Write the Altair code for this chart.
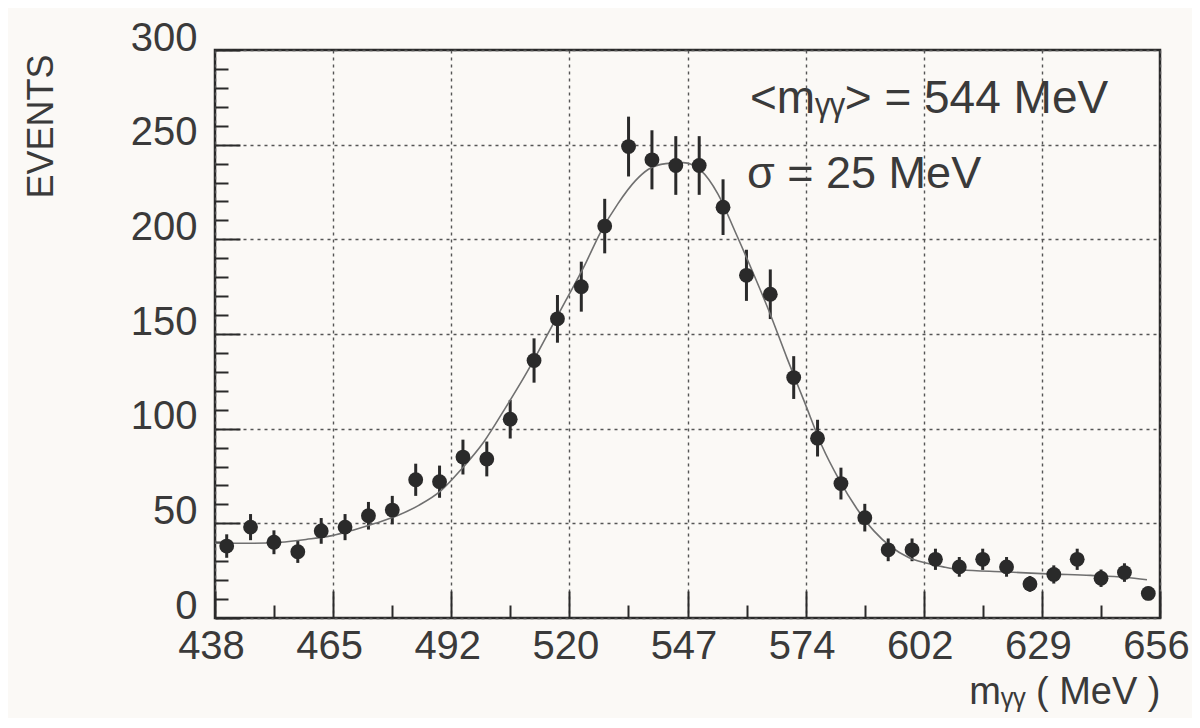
import altair as alt
import pandas as pd

# ---- data ----
bin_centers = [440.7, 446.2, 451.6, 457.1, 462.5, 468.0, 473.4, 478.9, 484.3, 489.8,
               495.2, 500.7, 506.1, 511.6, 517.0, 522.5, 527.9, 533.4, 538.8, 544.3,
               549.7, 555.2, 560.6, 566.1, 571.5, 577.0, 582.4, 587.9, 593.3, 598.8,
               604.2, 609.7, 615.1, 620.6, 626.0, 631.5, 636.9, 642.4, 647.8, 653.3]
events = [38, 48, 40, 35, 46, 48, 54, 57, 73, 72,
          85, 84, 105, 136, 158, 175, 207, 249, 242, 239,
          239, 217, 181, 171, 127, 95, 71, 53, 36, 36,
          31, 27, 31, 27, 18, 23, 31, 21, 24, 13]
errors = [6.2, 6.9, 6.3, 5.9, 6.8, 6.9, 7.3, 7.5, 8.5, 8.5,
          9.2, 9.2, 10.2, 11.7, 12.6, 13.2, 14.4, 15.8, 15.6, 15.5,
          15.5, 14.7, 13.5, 13.1, 11.3, 9.7, 8.4, 7.3, 6.0, 6.0,
          5.6, 5.2, 5.6, 5.2, 4.2, 4.8, 5.6, 4.6, 4.9, 3.6]

fit_mass = [438, 441, 447, 453, 459, 465, 470, 475, 480, 485, 490, 495, 500, 505, 510,
            515, 519, 523, 527, 531, 535, 538, 542, 546, 550, 554, 558, 562, 566, 570,
            574, 578, 582, 586, 590, 594, 598, 602, 606, 610, 620, 630, 640, 648, 653]
fit_events = [39.5, 39.5, 39.5, 40, 41.5, 43.5, 46.5, 50, 54, 59.5, 67, 79, 93, 111, 130,
              151, 168, 185, 204, 219, 231, 237, 240, 240.5, 236.5, 224, 204, 183, 161, 137,
              114, 91, 73, 58, 46, 37.5, 32, 29, 27, 25.5, 24.4, 23.3, 22.5, 21.5, 20.2]

x_tick_values = [438, 465.25, 492.5, 519.75, 547, 574.25, 601.5, 628.75, 656]
x_tick_labels = ["438", "465", "492", "520", "547", "574", "602", "629", "656"]
x_minor_ticks = [451.625, 478.875, 506.125, 533.375, 560.625, 587.875, 615.125, 642.375]
y_major_ticks = [0, 50, 100, 150, 200, 250, 300]
y_minor_ticks = [10, 20, 30, 40, 60, 70, 80, 90, 110, 120, 130, 140, 160, 170, 180, 190,
                 210, 220, 230, 240, 260, 270, 280, 290]

annot_1 = "<m\u1d67\u1d67> = 544 MeV"
annot_2 = "\u03c3 = 25 MeV"
x_title = "m\u1d67\u1d67 ( MeV )"
y_title = "EVENTS"

# ---- layout ----
W, H = 945, 568
FONT = "Liberation Sans"
INK = "#2a2a2a"
TXT = "#3a3a3a"

pts = pd.DataFrame({
    "mass": bin_centers,
    "events": events,
    "lo": [e - s for e, s in zip(events, errors)],
    "hi": [e + s for e, s in zip(events, errors)],
})
fit = pd.DataFrame({"mass": fit_mass, "events": fit_events})

xs = alt.Scale(domain=[438, 656], nice=False, zero=False)
ys = alt.Scale(domain=[0, 300], nice=False, zero=False)

label_expr = ("[" + ",".join("'%s'" % l for l in x_tick_labels) + "][indexof(["
              + ",".join(repr(v) for v in x_tick_values) + "], datum.value)]")

main_x_axis = alt.Axis(
    orient="bottom", values=x_tick_values, labelExpr=label_expr,
    grid=True, gridDash=[3, 4], gridColor="#555", gridWidth=1.4,
    ticks=False, domain=False, labelFlush=False, labelOverlap=False,
    labelFont=FONT, labelFontSize=40, labelColor=TXT, labelPadding=8,
    labelOffset=-4,
    title=x_title, titleFont=FONT, titleFontSize=38, titleFontWeight="normal",
    titleColor=TXT, titleAnchor="end", titleBaseline="alphabetic", titlePadding=37,
)
main_y_axis = alt.Axis(
    orient="left", values=y_major_ticks,
    grid=True, gridDash=[3, 4], gridColor="#555", gridWidth=1.4,
    ticks=False, domain=False, labelBaseline="alphabetic",
    labelFont=FONT, labelFontSize=40, labelColor=TXT, labelPadding=18,
    title=y_title, titleFont=FONT, titleFontSize=36, titleFontWeight="normal",
    titleColor=TXT, titleAngle=270, titleAlign="right", titleBaseline="middle",
    titleX=-174, titleY=4,
)

def tick_axis(orient, values, size, off):
    return alt.Axis(orient=orient, offset=off, values=values, tickSize=size,
                    tickWidth=2, tickColor=INK, labels=False, domain=False,
                    grid=False, title=None)

bars = alt.Chart(pts).mark_rule(color=INK, strokeWidth=3).encode(
    x=alt.X("mass:Q", scale=xs, axis=tick_axis("top", x_tick_values, 27, -H)),
    y=alt.Y("lo:Q", scale=ys, axis=tick_axis("right", y_major_ticks, 25, -W)),
    y2="hi:Q",
)

curve = alt.Chart(fit).mark_line(color="#707070", strokeWidth=1.6,
                                 interpolate="monotone").encode(
    x=alt.X("mass:Q", scale=xs, axis=tick_axis("top", x_minor_ticks, 13, -H)),
    y=alt.Y("events:Q", scale=ys, axis=tick_axis("right", y_minor_ticks, 13, -W)),
)

dots = alt.Chart(pts).mark_circle(size=220, color=INK, opacity=1).encode(
    x=alt.X("mass:Q", scale=xs, axis=main_x_axis),
    y=alt.Y("events:Q", scale=ys, axis=main_y_axis),
)

txt1 = alt.Chart(pd.DataFrame({"t": [annot_1]})).mark_text(
    font=FONT, fontSize=46, color=TXT, align="left", baseline="alphabetic"
).encode(text="t:N", x=alt.value(535), y=alt.value(63))
txt2 = alt.Chart(pd.DataFrame({"t": [annot_2]})).mark_text(
    font=FONT, fontSize=45, color=TXT, align="left", baseline="alphabetic"
).encode(text="t:N", x=alt.value(532), y=alt.value(138))

chart = alt.layer(bars, curve, dots, txt1, txt2).resolve_axis(
    x="independent", y="independent"
).properties(
    width=W, height=H,
    autosize=alt.AutoSizeParams(type="none"),
    padding={"left": 207, "top": 42, "right": 32, "bottom": 100},
    background="#fbf9f6",
).configure_view(stroke=INK, strokeWidth=2.5)

chart.save("out.html", embed_options={"renderer": "svg", "actions": False})
